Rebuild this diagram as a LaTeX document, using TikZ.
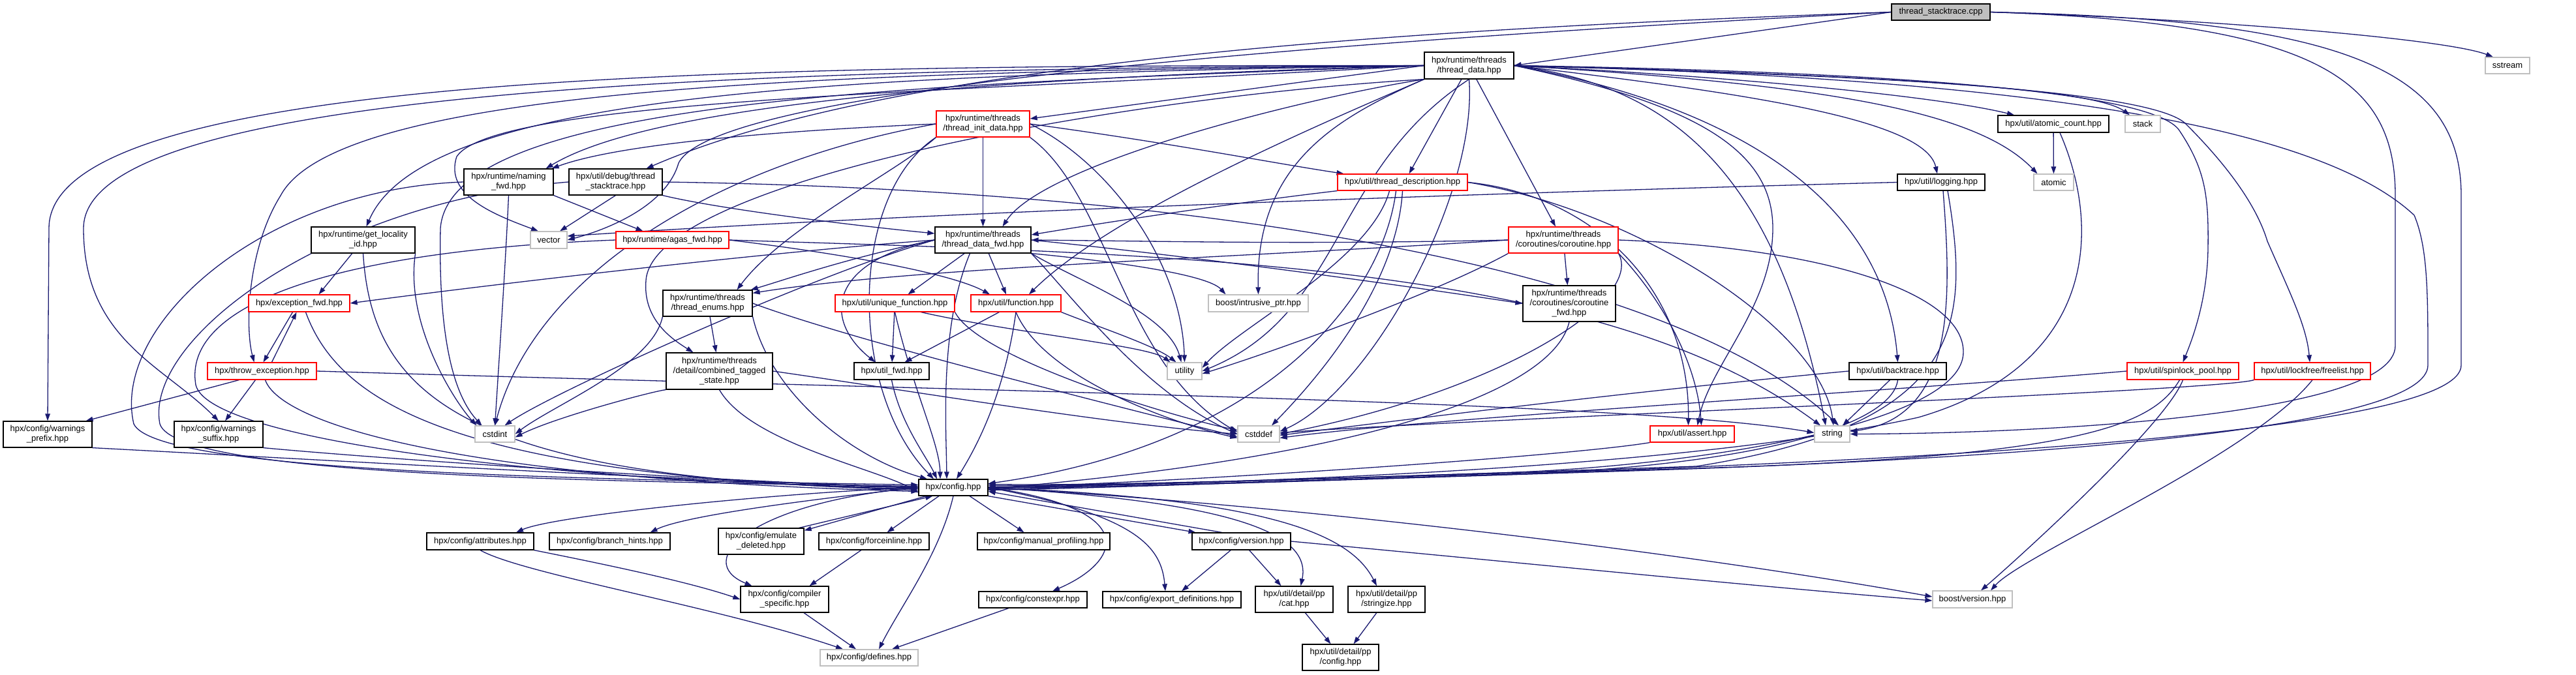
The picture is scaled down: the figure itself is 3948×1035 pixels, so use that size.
\documentclass[tikz,border=0pt]{standalone}
\usepackage{fontspec}
\setmainfont{Liberation Sans}
\usetikzlibrary{arrows.meta}
\definecolor{eblue}{HTML}{191970}
\definecolor{nred}{HTML}{FF0000}
\definecolor{ngray}{HTML}{BFBFBF}
\pgfdeclarelayer{bg}
\pgfsetlayers{bg,main}
\tikzset{
 nb/.style={draw=black, fill=white, line width=1.2pt, inner sep=0pt, align=center, font=\fontsize{13}{15}\selectfont},
 nr/.style={nb, draw=nred},
 ng/.style={nb, draw=ngray},
 nroot/.style={nb, fill=ngray},
 edg/.style={draw=eblue, line width=1.3pt, -{Triangle[length=11pt,width=7.5pt]}},
}
\newcommand\nd[7]{\node[#6, minimum width=#4pt, minimum height=#5pt] (#1) at (#2,#3) {#7};}
\begin{document}
\begin{tikzpicture}[x=1pt,y=-1pt]
\useasboundingbox (0,0) rectangle (3948,1035);
\nd{TS}{2974.5}{18.5}{151}{25}{nroot}{thread\_stacktrace.cpp}
\nd{TD}{2251.5}{100.5}{137}{41}{nb}{hpx/runtime/threads\\/thread\_data.hpp}
\nd{TID}{1506.5}{190}{143}{40}{nr}{hpx/runtime/threads\\/thread\_init\_data.hpp}
\nd{NF}{779.5}{279}{137}{40}{nb}{hpx/runtime/naming\\\_fwd.hpp}
\nd{DST}{943.5}{279}{143}{40}{nb}{hpx/util/debug/thread\\\_stacktrace.hpp}
\nd{TDESC}{2149.5}{279.5}{199}{25}{nr}{hpx/util/thread\_description.hpp}
\nd{LOG}{2975}{279.5}{134}{25}{nb}{hpx/util/logging.hpp}
\nd{ACNT}{3147}{190}{170}{26}{nb}{hpx/util/atomic\_count.hpp}
\nd{STACK}{3284}{190}{54}{26}{ng}{stack}
\nd{SSTREAM}{3843}{100.5}{68}{25}{ng}{sstream}
\nd{ATOMIC}{3147.5}{279.5}{61}{25}{ng}{atomic}
\nd{GLID}{556.5}{368}{159}{40}{nb}{hpx/runtime/get\_locality\\\_id.hpp}
\nd{VECTOR}{841}{368}{56}{26}{ng}{vector}
\nd{AGAS}{1030.5}{368}{173}{26}{nr}{hpx/runtime/agas\_fwd.hpp}
\nd{TDF}{1506.5}{368}{147}{40}{nb}{hpx/runtime/threads\\/thread\_data\_fwd.hpp}
\nd{COR}{2396}{368}{168}{40}{nr}{hpx/runtime/threads\\/coroutines/coroutine.hpp}
\nd{EXF}{458.5}{465}{155}{26}{nr}{hpx/exception\_fwd.hpp}
\nd{TE}{1084.5}{465}{137}{40}{nb}{hpx/runtime/threads\\/thread\_enums.hpp}
\nd{UF}{1371.5}{465}{183}{26}{nr}{hpx/util/unique\_function.hpp}
\nd{FN}{1557}{465}{138}{26}{nr}{hpx/util/function.hpp}
\nd{BIP}{1928.5}{465}{153}{26}{ng}{boost/intrusive\_ptr.hpp}
\nd{CORF}{2405}{465.5}{142}{55}{nb}{hpx/runtime/threads\\/coroutines/coroutine\\\_fwd.hpp}
\nd{THROW}{401.5}{569}{167}{26}{nr}{hpx/throw\_exception.hpp}
\nd{CTS}{1102.5}{569}{163}{56}{nb}{hpx/runtime/threads\\/detail/combined\_tagged\\\_state.hpp}
\nd{UFWD}{1366.5}{569}{115}{26}{nb}{hpx/util\_fwd.hpp}
\nd{UTIL}{1815.5}{569}{53}{26}{ng}{utility}
\nd{BT}{2908.5}{569}{149}{26}{nb}{hpx/util/backtrace.hpp}
\nd{SPIN}{3345.5}{569}{171}{26}{nr}{hpx/util/spinlock\_pool.hpp}
\nd{FREE}{3544}{569}{178}{26}{nr}{hpx/util/lockfree/freelist.hpp}
\nd{WPRE}{73}{666}{136}{40}{nb}{hpx/config/warnings\\\_prefix.hpp}
\nd{WSUF}{335}{666}{136}{40}{nb}{hpx/config/warnings\\\_suffix.hpp}
\nd{CSTDINT}{758.5}{665.5}{61}{25}{ng}{cstdint}
\nd{CSTDDEF}{1929}{665.5}{64}{25}{ng}{cstddef}
\nd{ASSERT}{2593.5}{665.5}{129}{25}{nr}{hpx/util/assert.hpp}
\nd{STRING}{2808}{665.5}{54}{25}{ng}{string}
\nd{CFG}{1461}{747.5}{106}{25}{nb}{hpx/config.hpp}
\nd{ATTR}{736}{830}{164}{26}{nb}{hpx/config/attributes.hpp}
\nd{BH}{934.5}{830}{185}{26}{nb}{hpx/config/branch\_hints.hpp}
\nd{EMU}{1166.5}{830}{131}{40}{nb}{hpx/config/emulate\\\_deleted.hpp}
\nd{FI}{1339.5}{830}{169}{26}{nb}{hpx/config/forceinline.hpp}
\nd{MP}{1599.5}{830}{203}{26}{nb}{hpx/config/manual\_profiling.hpp}
\nd{VER}{1902.5}{830}{151}{26}{nb}{hpx/config/version.hpp}
\nd{CS}{1202.5}{919}{135}{40}{nb}{hpx/config/compiler\\\_specific.hpp}
\nd{CE}{1583}{919.5}{166}{25}{nb}{hpx/config/constexpr.hpp}
\nd{ED}{1796}{919.5}{212}{25}{nb}{hpx/config/export\_definitions.hpp}
\nd{CAT}{1983.5}{919}{119}{40}{nb}{hpx/util/detail/pp\\/cat.hpp}
\nd{STR}{2125}{919}{118}{40}{nb}{hpx/util/detail/pp\\/stringize.hpp}
\nd{BVER}{3023}{919}{122}{26}{ng}{boost/version.hpp}
\nd{DEF}{1332}{1008.5}{150}{25}{ng}{hpx/config/defines.hpp}
\nd{PPCFG}{2054.5}{1008}{117}{40}{nb}{hpx/util/detail/pp\\/config.hpp}
\begin{pgfonlayer}{bg}
\fill[white] (0,0) rectangle (3948,1035);
% root
\draw[edg] (TS.west) -- (TD.east);
\draw[edg] (TS.west) .. controls (2300,40) and (1400,80) .. ([xshift=-25pt]DST.north east);
\draw[edg] (TS.west) .. controls (2100,60) and (1100,130) .. (1040,250) .. controls (1020,320) and (920,355) .. (VECTOR.east);
\draw[edg] (TS.east) .. controls (3400,30) and (3750,60) .. ([xshift=-22pt]SSTREAM.north);
\draw[edg] (TS.east) .. controls (3550,35) and (3671,120) .. (3671,300) -- (3671,530) .. controls (3671,640) and (3100,665) .. (STRING.east);
\draw[edg] (TS.east) .. controls (3600,30) and (3772,110) .. (3772,300) -- (3772,560) .. controls (3772,660) and (3000,700) .. (2500,720) .. controls (2000,735) and (1700,745) .. ([yshift=3pt]CFG.east);
% thread_data
\draw[edg] (TD.west) .. controls (1200,100) and (75,105) .. (75,350) -- (WPRE.north);
\draw[edg] (TD.west) .. controls (1200,105) and (128,130) .. (128,350) .. controls (128,520) and (250,560) .. (WSUF.north);
\draw[edg] (TD.west) .. controls (1300,110) and (520,130) .. (430,300) .. controls (380,380) and (375,500) .. ([xshift=-12pt]THROW.north);
\draw[edg] (TD.west) .. controls (1300,115) and (650,140) .. ([xshift=5pt]GLID.north);
\draw[edg] (TD.west) .. controls (1500,120) and (1000,160) .. ([xshift=-12pt]NF.north east);
\draw[edg] (TD.west) .. controls (1500,140) and (760,150) .. (700,240) .. controls (680,300) and (760,330) .. ([xshift=-16pt]VECTOR.north);
\draw[edg] (TD.west) -- ([yshift=8pt]TID.east);
\draw[edg] (TD.south west) .. controls (2000,150) and (1600,250) .. ([xshift=30pt]TDF.north);
\draw[edg] (TD) -- ([xshift=10pt]TDESC.north);
\draw[edg] (TD) -- ([xshift=-12pt]COR.north);
\draw[edg] (TD.south west) .. controls (1700,150) and (1000,280) .. (990,430) .. controls (985,490) and (1030,520) .. ([xshift=-40pt]CTS.north);
\draw[edg] (TD.east) .. controls (2600,160) and (2717,230) .. (2717,350) .. controls (2717,470) and (2620,560) .. ([xshift=8pt]ASSERT.north);
\draw[edg] (TD.east) .. controls (2550,130) and (2720,250) .. ([xshift=-10pt]STRING.north);
\draw[edg] (TD.east) .. controls (2700,170) and (2890,330) .. (BT.north);
\draw[edg] (TD.east) .. controls (2700,120) and (2980,150) .. ([xshift=-60pt]ACNT.north);
\draw[edg] (TD.east) .. controls (2800,115) and (3200,130) .. ([xshift=-20pt]STACK.north);
\draw[edg] (TD.east) .. controls (2800,130) and (3030,170) .. ([xshift=-25pt]ATOMIC.north);
\draw[edg] (TD.east) .. controls (2650,140) and (2950,180) .. ([xshift=-6pt]LOG.north);
\draw[edg] (TD.east) .. controls (2900,110) and (3300,140) .. (3340,200) .. controls (3380,260) and (3385,300) .. (3384,380) .. controls (3383,460) and (3360,520) .. (SPIN.north);
\draw[edg] (TD.east) .. controls (2900,115) and (3300,140) .. (3350,190) .. controls (3420,260) and (3460,320) .. (3475,370) .. controls (3510,450) and (3535,500) .. ([xshift=-4pt]FREE.north);
\draw[edg] (TD.east) .. controls (3100,120) and (3550,190) .. (3700,330) .. controls (3721,380) and (3721,450) .. (3721,560) .. controls (3721,650) and (3200,700) .. (2500,722) .. controls (2000,738) and (1700,748) .. (CFG.east);
\draw[edg] (TD.south west) .. controls (2050,180) and (1924,250) .. (BIP.north);
\draw[edg] (TD.south) .. controls (2040,260) and (2060,480) .. (UTIL.east);
\draw[edg] (TD.south) .. controls (2265,300) and (2100,600) .. ([yshift=4pt]CSTDDEF.east);
\draw[edg] (TD.west) .. controls (1400,130) and (690,150) .. (675,350) .. controls (672,500) and (690,600) .. ([xshift=-20pt]CSTDINT.north);
\draw[edg] (TD.south west) .. controls (2000,200) and (1700,330) .. ([xshift=20pt]FN.north);
% thread_init_data
\draw[edg] (TID.west) .. controls (1200,200) and (950,220) .. ([xshift=-3pt]NF.north east);
\draw[edg] (TID) -- (TDF);
\draw[edg] (TID.east) .. controls (1800,220) and (1950,250) .. ([xshift=-90pt]TDESC.north);
\draw[edg] (TID.south west) .. controls (1380,260) and (1200,350) .. ([xshift=45pt]TE.north);
\draw[edg] (TID.west) .. controls (1100,250) and (820,420) .. (CSTDINT.north);
\draw[edg] (TID.south east) .. controls (1700,300) and (1720,560) .. ([yshift=3pt]CSTDDEF.west);
\draw[edg] (TID.east) .. controls (1700,250) and (1810,400) .. (UTIL.north);
\draw[edg] (TID.south west) .. controls (1300,300) and (1300,600) .. ([xshift=-30pt]CFG.north);
% debug thread_stacktrace
\draw[edg] (DST.west) .. controls (500,310) and (220,520) .. (245,650) .. controls (270,730) and (900,738) .. ([yshift=2pt]CFG.west);
\draw[edg] (DST.south east) .. controls (1100,320) and (1300,345) .. ([yshift=10pt]TDF.west);
\draw[edg] (DST.south) -- ([xshift=17pt]VECTOR.north);
\draw[edg] (DST.east) .. controls (1800,290) and (2550,400) .. ([xshift=10pt]STRING.north);
% naming_fwd
\draw[edg] (NF.south east) -- ([xshift=-45pt]AGAS.north);
\draw[edg] (NF.south) .. controls (775,400) and (765,550) .. (CSTDINT.north);
\draw[edg] (NF.west) .. controls (400,290) and (170,500) .. (205,650) .. controls (240,725) and (900,735) .. ([yshift=4pt]CFG.west);
% agas_fwd
\draw[edg] (AGAS.west) .. controls (500,385) and (280,470) .. (300,590) .. controls (320,680) and (900,742) .. (CFG.west);
\draw[edg] (AGAS.east) .. controls (1300,390) and (1460,420) .. ([xshift=-40pt]FN.north);
\draw[edg] (AGAS.east) .. controls (1800,390) and (2450,400) .. ([xshift=-18pt]STRING.north);
% get_locality_id
\draw[edg] (GLID) -- ([xshift=30pt]EXF.north);
\draw[edg] (GLID.south) .. controls (570,600) and (700,738) .. ([yshift=-2pt]CFG.west);
\draw[edg] (GLID.south east) .. controls (620,500) and (700,620) .. ([xshift=-28pt]CSTDINT.north);
% exception_fwd / throw_exception
\draw[edg] ([xshift=-10pt]EXF.south) -- ([xshift=2pt]THROW.north);
\draw[edg] ([xshift=15pt]THROW.north) -- ([xshift=-4pt]EXF.south);
\draw[edg] ([xshift=10pt]EXF.south) .. controls (520,620) and (700,730) .. ([yshift=-4pt]CFG.west);
\draw[edg] ([xshift=-35pt]THROW.south) -- ([xshift=-10pt]WPRE.north east);
\draw[edg] ([xshift=-10pt]THROW.south) -- ([xshift=10pt]WSUF.north);
\draw[edg] ([xshift=5pt]THROW.south) .. controls (430,650) and (700,735) .. ([yshift=-6pt]CFG.west);
\draw[edg] (THROW.east) .. controls (1500,600) and (2500,615) .. ([yshift=2pt]STRING.west);
\draw[edg] (WPRE.south east) .. controls (400,700) and (1000,735) .. (CFG.west);
\draw[edg] (WSUF.south east) .. controls (600,705) and (1100,738) .. (CFG.west);
% thread_data_fwd
\draw[edg] (TDF.west) .. controls (1200,385) and (800,430) .. (EXF.east);
\draw[edg] (TDF.west) .. controls (1300,395) and (1200,430) .. ([xshift=-3pt]TE.north east);
\draw[edg] (TDF) -- ([xshift=20pt]UF.north);
\draw[edg] (TDF) -- ([xshift=-15pt]FN.north);
\draw[edg] (TDF.west) .. controls (1270,400) and (1260,490) .. ([xshift=-25pt]UFWD.north);
\draw[edg] (TDF.south east) .. controls (1700,400) and (1850,420) .. ([xshift=-50pt]BIP.north);
\draw[edg] (TDF.east) .. controls (1800,390) and (2100,430) .. (CORF.west);
\draw[edg] (TDF.south east) .. controls (1650,430) and (1790,480) .. ([xshift=-5pt]UTIL.north);
\draw[edg] (TDF.south east) .. controls (1640,450) and (1750,600) .. (CSTDDEF.west);
\draw[edg] (TDF.west) .. controls (1250,420) and (850,600) .. ([xshift=15pt]CSTDINT.north);
\draw[edg] ([xshift=-20pt]TDF.south) .. controls (1440,500) and (1450,650) .. ([xshift=-10pt]CFG.north);
% thread_description
\draw[edg] (TDESC.south west) .. controls (1900,310) and (1700,340) .. ([yshift=8pt]TDF.east);
\draw[edg] ([xshift=-10pt]TDESC.south) .. controls (2120,450) and (1950,680) .. ([yshift=6pt]CFG.east);
\draw[edg] (TDESC.south) .. controls (2140,450) and (2000,600) .. ([xshift=20pt]CSTDDEF.north);
\draw[edg] ([xshift=-20pt]TDESC.south) .. controls (2100,400) and (1900,500) .. ([yshift=5pt]UTIL.east);
\draw[edg] (TDESC.east) .. controls (2450,300) and (2590,450) .. ([xshift=-6pt]ASSERT.north);
\draw[edg] (TDESC.east) .. controls (2500,320) and (2790,500) .. ([xshift=2pt]STRING.north);
% coroutine
\draw[edg] (COR.west) .. controls (2000,375) and (1800,370) .. (TDF.east);
\draw[edg] (COR.west) .. controls (1900,395) and (1400,410) .. ([yshift=-5pt]TE.north east);
\draw[edg] (COR) -- (CORF);
\draw[edg] (COR.south west) .. controls (2200,450) and (1950,540) .. ([yshift=-4pt]UTIL.east);
\draw[edg] (COR.south east) .. controls (2520,460) and (2300,600) .. (CSTDDEF.east);
\draw[edg] (COR.south east) .. controls (2540,450) and (2600,550) .. ([xshift=14pt]ASSERT.north);
\draw[edg] (COR.east) .. controls (2800,380) and (3010,450) .. (3009,540) .. controls (3009,650) and (2600,715) .. (2300,725) .. controls (1900,738) and (1700,745) .. ([yshift=1pt]CFG.east);
\draw[edg] (CORF.south) .. controls (2380,600) and (2100,700) .. ([yshift=-2pt]CFG.east);
% thread_enums / combined_tagged_state
\draw[edg] (TE) -- ([xshift=-5pt]CTS.north);
\draw[edg] (TE.south east) .. controls (1180,600) and (1300,700) .. ([xshift=-40pt]CFG.north);
\draw[edg] (TE.south west) .. controls (1000,560) and (850,620) .. (CSTDINT.east);
\draw[edg] (TE.east) .. controls (1300,520) and (1700,620) .. ([yshift=-4pt]CSTDDEF.west);
\draw[edg] (CTS.south) .. controls (1150,680) and (1350,720) .. ([yshift=-8pt]CFG.west);
\draw[edg] (CTS.east) .. controls (1400,600) and (1700,650) .. (CSTDDEF.west);
\draw[edg] (CTS.south west) .. controls (1000,600) and (850,640) .. ([yshift=-5pt]CSTDINT.east);
% unique_function / function / util_fwd
\draw[edg] (UF) -- (UFWD);
\draw[edg] (UF.south) .. controls (1400,600) and (1440,680) .. ([xshift=-20pt]CFG.north);
\draw[edg] (UF.south east) .. controls (1500,550) and (1800,640) .. ([yshift=6pt]CSTDDEF.west);
\draw[edg] ([xshift=40pt]UF.south) .. controls (1550,510) and (1760,530) .. ([xshift=-22pt]UTIL.north);
\draw[edg] (FN) -- ([xshift=20pt]UFWD.north);
\draw[edg] (FN.south) .. controls (1540,600) and (1500,680) .. ([xshift=5pt]CFG.north);
\draw[edg] (FN.south) .. controls (1600,580) and (1800,650) .. ([yshift=-6pt]CSTDDEF.west);
\draw[edg] (FN.south east) .. controls (1680,500) and (1770,530) .. ([xshift=-13pt]UTIL.north);
\draw[edg] (UFWD.south) .. controls (1380,650) and (1420,700) .. ([xshift=-25pt]CFG.north);
% right side
\draw[edg] (BT.west) .. controls (2500,600) and (2100,650) .. ([yshift=-2pt]CSTDDEF.east);
\draw[edg] ([xshift=-12pt]BT.south) -- ([xshift=16pt]STRING.north);
\draw[edg] (BT.south) .. controls (2900,650) and (2700,715) .. (2300,728) .. controls (1900,740) and (1700,748) .. ([yshift=-4pt]CFG.east);
\draw[edg] (LOG.west) .. controls (2500,290) and (1500,320) .. ([yshift=6pt]VECTOR.east);
\draw[edg] ([xshift=3pt]LOG.south) .. controls (2990,450) and (3000,640) .. ([yshift=4pt]STRING.east);
\draw[edg] ([xshift=10pt]LOG.south) .. controls (3020,500) and (3010,650) .. (2600,715) .. controls (2000,735) and (1700,745) .. ([yshift=5pt]CFG.east);
\draw[edg] (ACNT) -- (ATOMIC);
\draw[edg] ([xshift=10pt]ACNT.south) .. controls (3221,350) and (3214,560) .. (2940,640) .. controls (2600,715) and (2000,738) .. ([yshift=-1pt]CFG.east);
\draw[edg] (SPIN.west) .. controls (2900,600) and (2200,640) .. ([yshift=-6pt]CSTDDEF.east);
\draw[edg] ([xshift=-5pt]SPIN.south) .. controls (3300,650) and (3200,700) .. (2600,718) .. controls (2000,737) and (1700,746) .. ([yshift=-3pt]CFG.east);
\draw[edg] (SPIN.south) .. controls (3320,650) and (3100,850) .. ([xshift=13pt]BVER.north);
\draw[edg] (FREE.south west) .. controls (3400,600) and (2300,640) .. ([yshift=2pt]CSTDDEF.east);
\draw[edg] (FREE.south) .. controls (3450,700) and (3100,850) .. ([xshift=28pt]BVER.north);
\draw[edg] (ASSERT.south west) .. controls (2400,700) and (1800,740) .. (CFG.east);
% config
\draw[edg] (CFG.west) .. controls (1200,755) and (850,790) .. ([xshift=55pt]ATTR.north);
\draw[edg] (CFG.west) .. controls (1250,765) and (1050,790) .. ([xshift=62pt]BH.north);
\draw[edg] ([xshift=12pt]CFG.south west) -- ([yshift=-4pt]EMU.north east);
\draw[edg] ([xshift=-8pt]EMU.north east) -- ([xshift=22pt]CFG.south west);
\draw[edg] ([xshift=-22pt]CFG.south) -- ([xshift=20pt]FI.north);
\draw[edg] ([xshift=25pt]CFG.south) -- ([xshift=-30pt]MP.north);
\draw[edg] (CFG.south east) -- ([xshift=-70pt]VER.north);
\draw[edg] ([xshift=-30pt]VER.north) -- ([yshift=-6pt]CFG.east);
\draw[edg] (CFG.west) .. controls (1150,770) and (1060,860) .. ([xshift=-50pt]CS.north);
\draw[edg] (CFG.south) .. controls (1440,850) and (1380,930) .. ([xshift=15pt]DEF.north);
\draw[edg] (CFG.east) .. controls (1750,780) and (1720,860) .. ([xshift=30pt]CE.north);
\draw[edg] (CFG.east) .. controls (1745,790) and (1780,840) .. ([xshift=-10pt]ED.north);
\draw[edg] (CFG.east) .. controls (1900,770) and (2010,820) .. ([xshift=10pt]CAT.north);
\draw[edg] (CFG.east) .. controls (1950,765) and (2070,820) .. ([xshift=-15pt]STR.north);
\draw[edg] (CFG.east) .. controls (2000,775) and (2600,850) .. ([yshift=4pt]BVER.west);
\draw[edg] (VER) -- ([xshift=15pt]ED.north);
\draw[edg] (VER) -- ([xshift=-20pt]CAT.north);
\draw[edg] (VER.east) .. controls (2300,860) and (2700,900) .. ([yshift=-2pt]BVER.west);
\draw[edg] (FI) -- ([xshift=38pt]CS.north);
\draw[edg] (ATTR.south east) .. controls (900,860) and (1050,890) .. (CS.west);
\draw[edg] (ATTR.south) .. controls (800,880) and (1100,930) .. ([xshift=-40pt]DEF.north);
\draw[edg] (CS) -- ([xshift=-20pt]DEF.north);
\draw[edg] (CE) -- ([xshift=35pt]DEF.north);
\draw[edg] (CAT) -- ([xshift=-15pt]PPCFG.north);
\draw[edg] (STR) -- ([xshift=20pt]PPCFG.north);
\end{pgfonlayer}
\end{tikzpicture}
\end{document}
